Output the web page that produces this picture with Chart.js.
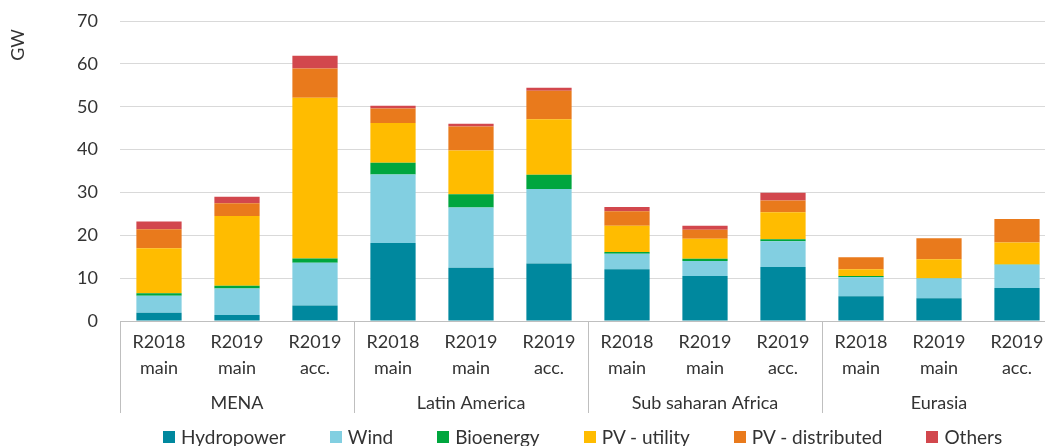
<!DOCTYPE html>
<html>
<head>
<meta charset="utf-8">
<script src="https://cdn.jsdelivr.net/npm/chart.js@4"></script>
<style>
  body { margin: 0; overflow: hidden; background: #fff; }
  #wrap { position: relative; width: 1060px; height: 446px; }
  #legend {
    position: absolute; left: 163px; top: 427px;
    display: flex; align-items: center;
    font-family: Lato, sans-serif; font-size: 19px; color: #333; line-height: 20px;
  }
  #legend .item { display: flex; align-items: center; margin-right: 44px; }
  #legend .box { width: 12px; height: 12px; margin-right: 6px; }
</style>
</head>
<body>
<div id="wrap">
  <canvas id="grafica" width="1060" height="446"></canvas>
  <div id="legend"></div>
</div>
<script>
// categorias y grupos
const categorias = [
  ["R2018", "main"], ["R2019", "main"], ["R2019", "acc."],
  ["R2018", "main"], ["R2019", "main"], ["R2019", "acc."],
  ["R2018", "main"], ["R2019", "main"], ["R2019", "acc."],
  ["R2018", "main"], ["R2019", "main"], ["R2019", "acc."]
];
const grupos = ["MENA", "Latin America", "Sub saharan Africa", "Eurasia"];

// valores en GW
const hydropower   = [1.9, 1.4, 3.6, 18.2, 12.4, 13.4, 12.1, 10.5, 12.6, 5.8, 5.3, 7.7];
const wind         = [4.0, 6.2, 10.0, 16.0, 14.1, 17.4, 3.6, 3.5, 6.0, 4.4, 4.6, 5.4];
const bioenergy    = [0.6, 0.6, 1.0, 2.7, 3.1, 3.3, 0.4, 0.5, 0.5, 0.3, 0.1, 0.1];
const pvUtility    = [10.5, 16.3, 37.5, 9.3, 10.2, 13.0, 6.1, 4.7, 6.3, 1.6, 4.4, 5.1];
const pvDistribuido = [4.4, 3.0, 6.8, 3.4, 5.6, 6.6, 3.4, 2.1, 2.7, 2.8, 4.9, 5.5];
const otros        = [1.8, 1.5, 3.0, 0.6, 0.6, 0.7, 1.0, 0.9, 1.8, 0, 0, 0];

const yTicks = [0, 10, 20, 30, 40, 50, 60, 70];

const series = [
  { label: "Hydropower", data: hydropower, color: "#00889e" },
  { label: "Wind", data: wind, color: "#82cfe1" },
  { label: "Bioenergy", data: bioenergy, color: "#00a63e" },
  { label: "PV - utility", data: pvUtility, color: "#ffbc00" },
  { label: "PV - distributed", data: pvDistribuido, color: "#e97a1c" },
  { label: "Others", data: otros, color: "#d2474d" }
];

const fuente = "Lato, sans-serif";
const colorTexto = "#333";
const colorLinea = "#bfbfbf";

// === separadores y etiquetas de grupo ===
const gruposPlugin = {
  id: "grupos",
  afterDraw(chart) {
    const { ctx, chartArea, scales: { x } } = chart;
    const bottom = chartArea.bottom;
    const n = categorias.length;
    const borde = i => {
      if (i === 0) return chartArea.left;
      if (i === n) return chartArea.right;
      return (x.getPixelForValue(i - 1) + x.getPixelForValue(i)) / 2;
    };
    ctx.save();
    ctx.strokeStyle = colorLinea;
    ctx.lineWidth = 1;
    ctx.font = "18px " + fuente;
    ctx.fillStyle = colorTexto;
    ctx.textAlign = "center";
    ctx.textBaseline = "middle";
    grupos.forEach((g, gi) => {
      const a = borde(gi * 3), b = borde(gi * 3 + 3);
      ctx.beginPath();
      ctx.moveTo(Math.round(a) + 0.5, bottom);
      ctx.lineTo(Math.round(a) + 0.5, bottom + 92);
      ctx.stroke();
      ctx.fillText(g, (a + b) / 2, bottom + 82);
    });
    // titulo del eje
    ctx.translate(18, 45);
    ctx.rotate(-Math.PI / 2);
    ctx.fillText("GW", 0, 0);
    ctx.restore();
  }
};

new Chart(document.getElementById("grafica"), {
  type: "bar",
  data: {
    labels: categorias,
    datasets: series.map(s => ({
      label: s.label,
      data: s.data,
      backgroundColor: s.color,
      borderWidth: 0,
      categoryPercentage: 0.58,
      barPercentage: 1
    }))
  },
  options: {
    responsive: false,
    animation: false,
    layout: { padding: { top: 21, bottom: 33, left: 0, right: 4 } },
    plugins: {
      legend: { display: false },
      tooltip: { enabled: false }
    },
    scales: {
      x: {
        stacked: true,
        grid: { display: false, drawTicks: false },
        border: { color: colorLinea },
        ticks: {
          color: colorTexto,
          font: { family: fuente, size: 18, lineHeight: 1.4 },
          padding: 9,
          maxRotation: 0,
          autoSkip: false
        },
        afterFit: scale => { scale.height = 92; }
      },
      y: {
        stacked: true,
        min: 0,
        max: 70,
        afterBuildTicks: scale => { scale.ticks = yTicks.map(v => ({ value: v })); },
        grid: { color: "#d9d9d9", drawTicks: false },
        border: { display: false },
        ticks: {
          color: colorTexto,
          font: { family: fuente, size: 18 },
          padding: 22
        },
        afterFit: scale => {
          scale.width = 120;
          scale.paddingTop = 11;
          scale.paddingBottom = 11;
        }
      }
    }
  },
  plugins: [gruposPlugin]
});

// leyenda
const leyenda = document.getElementById("legend");
series.forEach(s => {
  const item = document.createElement("div");
  item.className = "item";
  item.innerHTML = `<span class="box" style="background:${s.color}"></span><span>${s.label}</span>`;
  leyenda.appendChild(item);
});
</script>
</body>
</html>
